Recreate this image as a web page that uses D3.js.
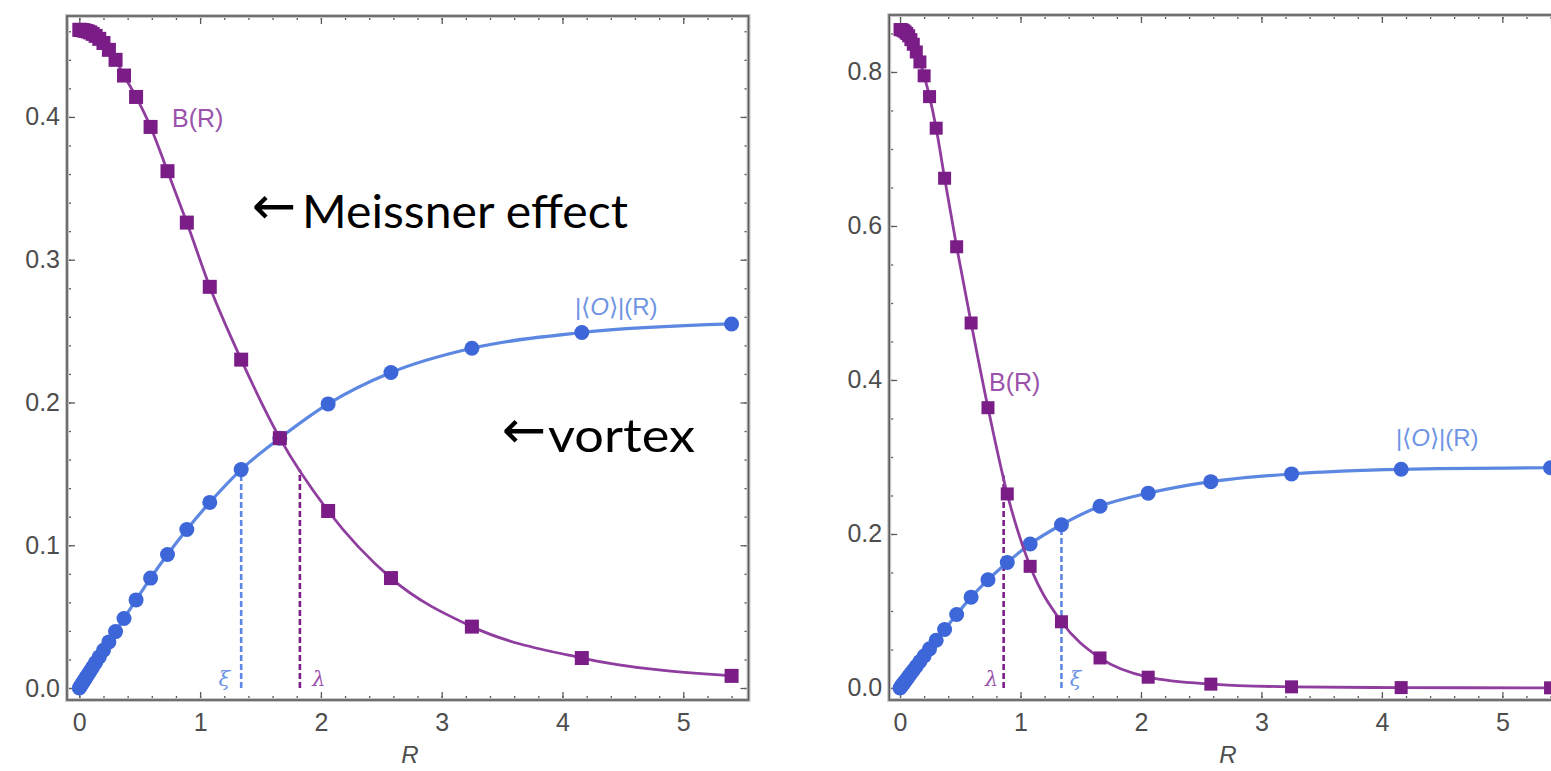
<!DOCTYPE html>
<html><head><meta charset="utf-8">
<script src="https://cdn.jsdelivr.net/npm/d3@7"></script>
<style>body{margin:0;background:#fff;overflow:hidden} svg{display:block}</style>
</head><body>
<script>
// ---- data ----
const R = [0, 0.009, 0.019, 0.03, 0.042, 0.056, 0.072, 0.09, 0.11, 0.135, 0.165, 0.20, 0.245, 0.30, 0.37, 0.47, 0.59, 0.73, 0.89, 1.08, 1.34, 1.66, 2.06, 2.58, 3.25, 4.16, 5.40];
const leftB = [0.461, 0.461, 0.4609, 0.4607, 0.4605, 0.4602, 0.4598, 0.4592, 0.4582, 0.4568, 0.4547, 0.4518, 0.447, 0.440, 0.429, 0.414, 0.393, 0.362, 0.326, 0.281, 0.230, 0.175, 0.124, 0.077, 0.043, 0.021, 0.0085];
const leftO = [0, 0.0012, 0.0025, 0.004, 0.0055, 0.0074, 0.0095, 0.0119, 0.0145, 0.0178, 0.0218, 0.0264, 0.0323, 0.0395, 0.0487, 0.0617, 0.077, 0.0935, 0.111, 0.130, 0.153, 0.175, 0.199, 0.221, 0.238, 0.249, 0.255];
const rightB = [0.855, 0.855, 0.8545, 0.8535, 0.852, 0.850, 0.847, 0.842, 0.836, 0.826, 0.813, 0.795, 0.768, 0.727, 0.662, 0.573, 0.474, 0.364, 0.252, 0.158, 0.086, 0.039, 0.014, 0.005, 0.0015, 0.0005, 0.0002];
const rightO = [0, 0.0019, 0.004, 0.0063, 0.0088, 0.0117, 0.0151, 0.0188, 0.023, 0.0282, 0.0344, 0.0416, 0.0508, 0.062, 0.076, 0.0955, 0.118, 0.1405, 0.163, 0.187, 0.212, 0.236, 0.253, 0.268, 0.278, 0.284, 0.286];
const xTickLabels = [0, 1, 2, 3, 4, 5];
const leftYTickLabels = [0, 0.1, 0.2, 0.3, 0.4];
const rightYTickLabels = [0, 0.2, 0.4, 0.6, 0.8];
// dashed markers [R, top value]
const leftXi = [1.34, 0.153];
const leftLambda = [1.826, 0.153];
const rightLambda = [0.86, 0.276];
const rightXi = [1.34, 0.212];

// ---- styles ----
const PURPLE = "#7a1d87", PURPLE_LINE = "#8f3d9e", PURPLE_TXT = "#9a52ac";
const BLUE = "#3d66d8", BLUE_LINE = "#5d88e2", BLUE_TXT = "#6f94e4";
const AXIS = "#5a5a5a";

const svg = d3.select("body").append("svg").attr("width", 1551).attr("height", 771);

function panel(cfg) {
  const x = d3.scaleLinear().domain(cfg.xd).range(cfg.xr);
  const y = d3.scaleLinear().domain(cfg.yd).range(cfg.yr);
  const g = svg.append("g");
  const [x0, x1] = cfg.xr, [y1, y0] = cfg.yr;

  const minorX = d3.range(0, 5.6, 0.2).filter(v => v <= cfg.xd[1]);
  const minorY = d3.range(0, cfg.yd[1], cfg.yMinor);

  function styleAxis(sel) {
    sel.select(".domain").remove();
    sel.selectAll(".tick line").attr("stroke", AXIS).attr("stroke-width", 1.3);
    sel.selectAll("text").attr("fill", "#4d4d4d").style("font-family", "Liberation Sans, Arial, sans-serif").style("font-size", "25px");
  }
  g.append("g").attr("transform", `translate(0,${y1})`).call(d3.axisBottom(x).tickValues(xTickLabels).tickSize(-8).tickPadding(13).tickFormat(d3.format("d"))).call(styleAxis);
  g.append("g").attr("transform", `translate(0,${y1})`).call(d3.axisBottom(x).tickValues(minorX).tickSize(-4).tickFormat("")).call(styleAxis);
  g.append("g").attr("transform", `translate(0,${y0})`).call(d3.axisTop(x).tickValues(xTickLabels).tickSize(-8).tickFormat("")).call(styleAxis);
  g.append("g").attr("transform", `translate(0,${y0})`).call(d3.axisTop(x).tickValues(minorX).tickSize(-4).tickFormat("")).call(styleAxis);
  g.append("g").attr("transform", `translate(${x0},0)`).call(d3.axisLeft(y).tickValues(cfg.yTicks).tickSize(-8).tickPadding(7).tickFormat(d3.format(".1f"))).call(styleAxis);
  g.append("g").attr("transform", `translate(${x0},0)`).call(d3.axisLeft(y).tickValues(minorY).tickSize(-4).tickFormat("")).call(styleAxis);
  g.append("g").attr("transform", `translate(${x1},0)`).call(d3.axisRight(y).tickValues(cfg.yTicks).tickSize(-8).tickFormat("")).call(styleAxis);
  g.append("g").attr("transform", `translate(${x1},0)`).call(d3.axisRight(y).tickValues(minorY).tickSize(-4).tickFormat("")).call(styleAxis);

  g.append("rect").attr("x", x0).attr("y", y0).attr("width", x1 - x0).attr("height", y1 - y0)
    .attr("fill", "none").attr("stroke", "#c8c8c8").attr("stroke-width", 4);
  g.append("rect").attr("x", x0).attr("y", y0).attr("width", x1 - x0).attr("height", y1 - y0)
    .attr("fill", "none").attr("stroke", AXIS).attr("stroke-width", 1.6);

  g.append("text").attr("x", cfg.rLab).attr("y", 763)
    .attr("text-anchor", "middle").attr("fill", "#4d4d4d")
    .style("font-family", "Liberation Sans, Arial, sans-serif").style("font-size", "24px").style("font-style", "italic").text("R");

  cfg.dashes.forEach(d => {
    g.append("line").attr("x1", x(d.v[0])).attr("x2", x(d.v[0])).attr("y1", y(0)).attr("y2", y(d.v[1]))
      .attr("stroke", d.c).attr("stroke-width", 2.6).attr("stroke-dasharray", "6,3");
    g.append("text").attr("x", x(d.v[0]) + d.dx).attr("y", 686).attr("text-anchor", "middle")
      .attr("fill", d.tc).style("font-family", "DejaVu Serif, serif").style("font-style", "italic").style("font-size", "21px").text(d.t);
  });

  const pts = (ys) => R.map((r, i) => [r, ys[i]]);
  const line = d3.line().x(d => x(d[0])).y(d => y(d[1])).curve(d3.curveMonotoneX);

  g.append("path").attr("d", line(pts(cfg.O))).attr("fill", "none").attr("stroke", BLUE_LINE).attr("stroke-width", 3.2);
  g.selectAll(null).data(pts(cfg.O)).join("circle").attr("cx", d => x(d[0])).attr("cy", d => y(d[1])).attr("r", cfg.cr).attr("fill", BLUE);
  g.append("path").attr("d", line(pts(cfg.B))).attr("fill", "none").attr("stroke", PURPLE_LINE).attr("stroke-width", 2.8);
  const s = cfg.sq;
  g.selectAll(null).data(pts(cfg.B)).join("rect").attr("x", d => x(d[0]) - s / 2).attr("y", d => y(d[1]) - s / 2)
    .attr("width", s).attr("height", s).attr("fill", PURPLE);

  g.append("text").attr("x", cfg.bLab[0]).attr("y", cfg.bLab[1]).attr("fill", PURPLE_TXT)
    .style("font-family", "Liberation Sans, Arial, sans-serif").style("font-size", "25px").text("B(R)");
  const t = g.append("text").attr("x", cfg.oLab[0]).attr("y", cfg.oLab[1]).attr("fill", BLUE_TXT)
    .style("font-family", "Liberation Sans, Arial, sans-serif").style("font-size", "24px");
  t.append("tspan").text("|\u27E8");
  t.append("tspan").style("font-style", "italic").text("O");
  t.append("tspan").text("\u27E9|(R)");
}

panel({
  xd: [-0.102, 5.54], xr: [67, 748.5],
  yd: [-0.0084, 0.4707], yr: [700, 16],
  yTicks: leftYTickLabels, yMinor: 0.02,
  B: leftB, O: leftO, sq: 14, cr: 7.5,
  bLab: [172, 127], oLab: [575, 315], rLab: 410,
  dashes: [
    { v: leftXi, c: BLUE_LINE, tc: BLUE_TXT, t: "ξ", dx: -17 },
    { v: leftLambda, c: PURPLE, tc: PURPLE_TXT, t: "λ", dx: 19 }
  ]
});

panel({
  xd: [-0.09, 5.52], xr: [889.2, 1565],
  yd: [-0.0156, 0.874], yr: [700, 15],
  yTicks: rightYTickLabels, yMinor: 0.05,
  B: rightB, O: rightO, sq: 13, cr: 7.5,
  bLab: [989, 391], oLab: [1396, 446], rLab: 1228,
  dashes: [
    { v: rightLambda, c: PURPLE, tc: PURPLE_TXT, t: "λ", dx: -12 },
    { v: rightXi, c: BLUE_LINE, tc: BLUE_TXT, t: "ξ", dx: 14 }
  ]
});

// big annotations: [arrow x, word, word x, baseline, word width]
const ann = [[252, "Meissner effect", 302, 228, 326], [502, "vortex", 548, 452, 147]];
ann.forEach(a => {
  svg.append("text").attr("x", a[0]).attr("y", a[3] - 4).attr("fill", "#000")
    .style("font-family", "DejaVu Sans, sans-serif").style("font-size", "53px").text("\u2190");
  svg.append("text").attr("x", a[2]).attr("y", a[3]).attr("fill", "#000")
    .attr("textLength", a[4]).attr("lengthAdjust", "spacingAndGlyphs")
    .style("font-family", "Lato, 'Open Sans', sans-serif").style("font-size", "47px").text(a[1]);
});
</script>
</body></html>
